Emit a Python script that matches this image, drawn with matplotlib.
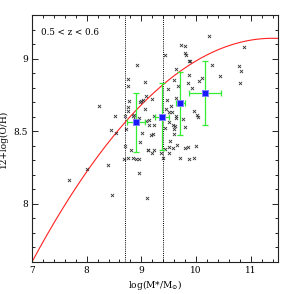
import numpy as np
import matplotlib
matplotlib.use("Agg")
import matplotlib.pyplot as plt
from matplotlib.ticker import MultipleLocator

plt.rcParams["font.family"] = "DejaVu Serif"
plt.rcParams["mathtext.fontset"] = "dejavuserif"

# individual galaxies: stellar mass and metallicity
mass = [8.916, 8.765, 8.761, 9.080, 8.998, 9.026, 8.971, 8.776, 8.752, 8.217,
        8.515, 8.710, 9.068, 8.958, 8.861, 9.135, 8.892, 8.752, 8.454, 8.538,
        9.020, 8.976, 8.715, 8.710, 9.075, 8.843,
        10.230, 10.874, 9.724, 9.805, 9.792, 9.810, 9.870, 9.896, 9.633, 10.297,
        10.783, 10.832, 10.431, 10.115, 10.053, 9.865, 9.597, 10.808, 9.427, 9.677,
        9.859, 9.487, 9.933, 9.203, 9.641, 9.469, 9.536, 9.458, 9.505, 9.568,
        9.232, 9.080, 9.226, 9.141, 9.628, 9.641, 9.956, 10.016, 10.042, 9.761,
        9.797, 9.578, 9.604, 9.500, 9.184, 9.214, 9.591, 9.518, 9.646, 9.500,
        9.847, 10.005,
        9.440, 9.622, 9.573, 9.427, 9.122, 9.232, 9.195, 9.354, 9.505, 9.797,
        9.403, 9.701, 9.870, 9.962, 9.104,
        8.812, 9.130, 8.679, 8.757, 8.856, 8.898, 8.958, 8.392, 8.009, 8.958,
        8.460, 7.681]
oh = [8.958, 8.861, 8.811, 8.746, 8.711, 8.718, 8.704, 8.707, 8.669, 8.672,
      8.604, 8.605, 8.651, 8.589, 8.614, 8.577, 8.586, 8.638, 8.508, 8.485,
      8.485, 8.427, 8.515, 8.399, 8.841, 8.603,
      9.159, 9.081, 9.097, 9.088, 9.040, 9.028, 8.981, 8.986, 8.926, 8.954,
      8.949, 8.915, 8.880, 8.868, 8.848, 8.884, 8.852, 8.829, 9.026, 8.811,
      8.832, 8.792, 8.801, 8.725, 8.730, 8.716, 8.672, 8.654, 8.631, 8.631,
      8.605, 8.572, 8.545, 8.545, 8.607, 8.593, 8.638, 8.610, 8.600, 8.584,
      8.527, 8.543, 8.515, 8.561, 8.475, 8.480, 8.480, 8.434, 8.406, 8.395,
      8.392, 8.399,
      8.520, 8.536, 8.383, 8.376, 8.371, 8.369, 8.351, 8.351, 8.347, 8.383,
      8.319, 8.319, 8.307, 8.314, 8.044,
      8.374, 8.371, 8.312, 8.314, 8.314, 8.309, 8.309, 8.267, 8.238, 8.215,
      8.058, 8.166]

# binned means
bin_mass = [8.90, 9.38, 9.71, 10.17]
bin_oh = [8.561, 8.600, 8.693, 8.762]
bin_mass_err = [0.17, 0.128, 0.08, 0.296]
bin_oh_err = [0.202, 0.231, 0.216, 0.222]

# mass bin boundaries
bin_edges = [8.7, 9.4]

# local mass-metallicity relation, 12+log(O/H) = a + b*x + c*x^2
mz_coef = [-1.192, 1.8126, -0.0795]

fig = plt.figure(figsize=(2.94, 2.94), dpi=100)
ax = fig.add_axes([0.1088, 0.1088, 0.8367, 0.8401])

xs = np.linspace(7, 11.5, 200)
ax.plot(xs, mz_coef[0] + mz_coef[1] * xs + mz_coef[2] * xs ** 2,
        color="#ff2020", lw=0.8, zorder=2)

for e in bin_edges:
    ax.axvline(e, color="black", ls=(0, (1, 1.2)), lw=0.7, zorder=1)

ax.scatter(mass, oh, marker="x", s=5, color="#333333", linewidths=0.6, zorder=3)

ax.errorbar(bin_mass, bin_oh, xerr=bin_mass_err, yerr=bin_oh_err,
            fmt="none", ecolor="#33ee33", elinewidth=0.9, capsize=2,
            capthick=0.9, zorder=4)
ax.scatter(bin_mass, bin_oh, marker="s", s=15, color="#1a1aff",
           edgecolors="#8080ff", linewidths=0.7, zorder=5)

ax.text(0.035, 0.93, "0.5 < z < 0.6", transform=ax.transAxes,
        fontsize=6.3, va="center", ha="left")

ax.set_xlim(7, 11.5)
ax.set_ylim(7.6, 9.3)
ax.xaxis.set_major_locator(MultipleLocator(1))
ax.xaxis.set_minor_locator(MultipleLocator(0.2))
ax.yaxis.set_major_locator(MultipleLocator(0.5))
ax.yaxis.set_minor_locator(MultipleLocator(0.1))
ax.set_yticks([8, 8.5, 9])
ax.set_yticklabels(["8", "8.5", "9"])
ax.tick_params(which="both", direction="in", top=True, right=True,
               labelsize=6.5, width=0.6, pad=3)
ax.tick_params(which="major", length=4)
ax.tick_params(which="minor", length=2)
for sp in ax.spines.values():
    sp.set_linewidth(0.8)
    sp.set_color("#222222")

ax.set_xlabel(r"log(M*/M$_{\odot}$)", fontsize=6.5, labelpad=2)
ax.set_ylabel("12+log(O/H)", fontsize=6.5, labelpad=4)

fig.savefig("out.png", dpi=100, facecolor="white")
